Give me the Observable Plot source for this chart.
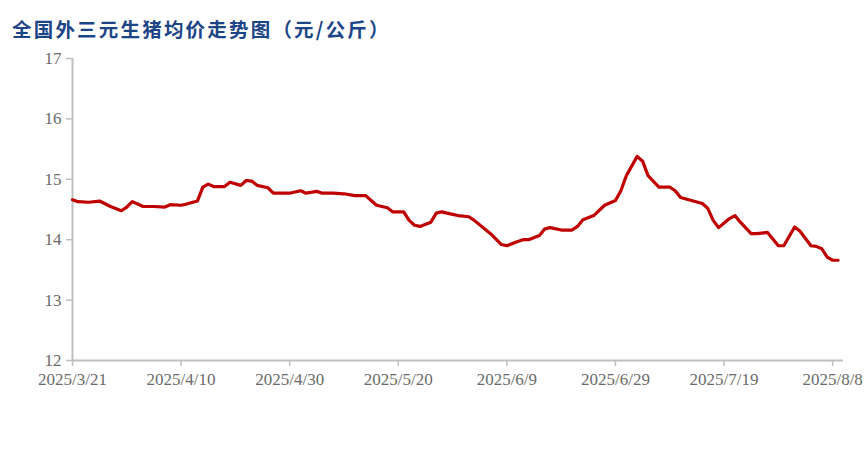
<!DOCTYPE html>
<html>
<head>
<meta charset="utf-8">
<script src="https://cdn.jsdelivr.net/npm/d3@7"></script>
<script src="https://cdn.jsdelivr.net/npm/@observablehq/plot@0.6"></script>
<style>
  html, body { margin: 0; padding: 0; background: #fff; }
  #wrap { width: 868px; height: 460px; position: relative; overflow: hidden; }
  #title { position: absolute; left: 12px; top: 17px; font-family: "Noto Sans CJK SC", sans-serif; font-weight: 700; font-size: 19.5px; color: #1c4587; letter-spacing: 2.2px; line-height: 24px; white-space: nowrap; }
  #chart { position: absolute; left: 0; top: 50px; }
</style>
</head>
<body>
<div id="wrap">
  <div id="title">全国外三元生猪均价走势图（元/公斤）</div>
  <div id="chart"></div>
</div>
<script>
const dates = [
  "2025-03-21","2025-03-22","2025-03-24","2025-03-26","2025-03-28","2025-03-30","2025-03-31",
  "2025-04-01","2025-04-02","2025-04-03","2025-04-05","2025-04-07","2025-04-08","2025-04-10",
  "2025-04-11","2025-04-13","2025-04-14","2025-04-15","2025-04-16","2025-04-18","2025-04-19",
  "2025-04-21","2025-04-22","2025-04-23","2025-04-24","2025-04-26","2025-04-27","2025-04-29",
  "2025-04-30","2025-05-02","2025-05-03","2025-05-05","2025-05-06","2025-05-08","2025-05-10",
  "2025-05-12","2025-05-14","2025-05-15","2025-05-16","2025-05-18","2025-05-19","2025-05-21",
  "2025-05-22","2025-05-23","2025-05-24","2025-05-26","2025-05-27","2025-05-28","2025-05-30",
  "2025-05-31","2025-06-02","2025-06-03","2025-06-06","2025-06-08","2025-06-09","2025-06-11",
  "2025-06-12","2025-06-13","2025-06-15","2025-06-16","2025-06-17","2025-06-19","2025-06-21",
  "2025-06-22","2025-06-23","2025-06-25","2025-06-27","2025-06-29","2025-06-30","2025-07-01",
  "2025-07-03","2025-07-04","2025-07-05","2025-07-07","2025-07-09","2025-07-10","2025-07-11",
  "2025-07-13","2025-07-15","2025-07-16","2025-07-17","2025-07-18","2025-07-20","2025-07-21",
  "2025-07-22","2025-07-24","2025-07-25","2025-07-27","2025-07-29","2025-07-30","2025-08-01",
  "2025-08-02","2025-08-04","2025-08-05","2025-08-06","2025-08-07","2025-08-08","2025-08-09"
];
const prices = [
  14.66,14.63,14.62,14.64,14.55,14.48,14.54,
  14.63,14.59,14.55,14.55,14.54,14.58,14.57,
  14.59,14.64,14.87,14.92,14.88,14.88,14.95,
  14.90,14.98,14.97,14.90,14.86,14.77,14.77,
  14.77,14.81,14.77,14.80,14.77,14.77,14.76,
  14.73,14.73,14.65,14.57,14.53,14.46,14.46,
  14.32,14.24,14.22,14.29,14.44,14.46,14.42,
  14.40,14.38,14.32,14.10,13.92,13.90,13.97,
  14.00,14.00,14.07,14.18,14.20,14.16,14.16,
  14.22,14.33,14.40,14.57,14.65,14.81,15.06,
  15.38,15.30,15.06,14.87,14.87,14.81,14.70,
  14.65,14.60,14.52,14.32,14.20,14.35,14.40,
  14.29,14.10,14.10,14.12,13.90,13.90,14.21,
  14.14,13.90,13.89,13.85,13.71,13.66,13.66
];
const xTickLabels = ["2025-03-21","2025-04-10","2025-04-30","2025-05-20","2025-06-09","2025-06-29","2025-07-19","2025-08-08"];
const yTicks = [12, 13, 14, 15, 16, 17];

const data = dates.map((d, i) => ({date: new Date(d + "T00:00:00Z"), price: prices[i]}));
const xTicks = xTickLabels.map(d => new Date(d + "T00:00:00Z"));
const xStart = new Date("2025-03-21T00:00:00Z");
const xEnd = new Date("2025-08-10T00:00:00Z");
const fmt = d => `${d.getUTCFullYear()}/${d.getUTCMonth() + 1}/${d.getUTCDate()}`;

const chart = Plot.plot({
  width: 868,
  height: 410,
  marginTop: 8,
  marginBottom: 100,
  marginLeft: 72,
  marginRight: 25,
  x: {type: "utc", domain: [xStart, xEnd]},
  y: {domain: [12, 17]},
  style: {fontFamily: "'Liberation Serif', serif", fontSize: "17px", color: "#6b6b6b", background: "#fff"},
  marks: [
    Plot.axisY({ticks: yTicks, tickFormat: d => String(d), tickSize: 6, tickPadding: 5, stroke: "#bfbfbf", strokeWidth: 1.5, fill: "#6b6b6b", label: null}),
    Plot.axisX({ticks: xTicks, tickSize: 6, tickPadding: 6, tickFormat: fmt, stroke: "#bfbfbf", strokeWidth: 1.5, fill: "#6b6b6b", label: null}),
    Plot.ruleX([xStart], {stroke: "#bfbfbf", strokeWidth: 2}),
    Plot.ruleY([12], {stroke: "#bfbfbf", strokeWidth: 2}),
    Plot.lineY(data, {x: "date", y: "price", stroke: "#c00000", strokeWidth: 3.2, strokeLinejoin: "round", strokeLinecap: "round"})
  ]
});
document.getElementById("chart").appendChild(chart);
</script>
</body>
</html>
